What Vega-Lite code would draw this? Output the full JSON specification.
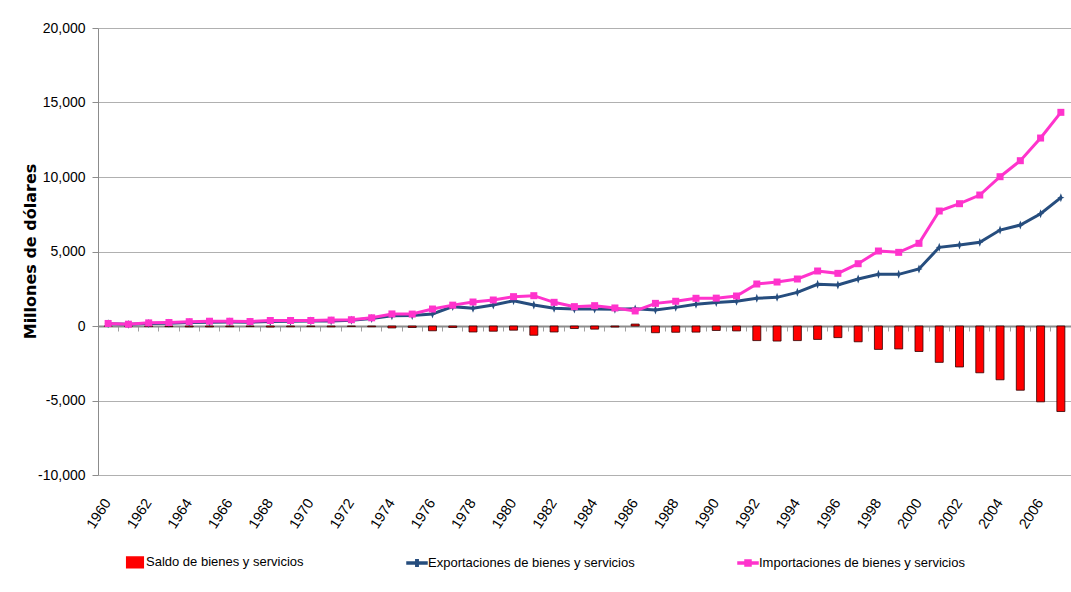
{
  "$schema": "https://vega.github.io/schema/vega-lite/v6.json",
  "autosize": {"type": "none"},
  "padding": {"left": 98, "top": 28, "right": 0, "bottom": 117},
  "width": 973,
  "height": 447,
  "background": "white",
  "config": {"view": {"stroke": null}},
  "data": {"values": [
    {"anio": 1960, "saldo": -20, "exportaciones": 150, "importaciones": 170},
    {"anio": 1961, "saldo": -10, "exportaciones": 110, "importaciones": 120},
    {"anio": 1962, "saldo": -40, "exportaciones": 170, "importaciones": 210},
    {"anio": 1963, "saldo": -45, "exportaciones": 190, "importaciones": 235},
    {"anio": 1964, "saldo": -60, "exportaciones": 230, "importaciones": 290},
    {"anio": 1965, "saldo": -60, "exportaciones": 260, "importaciones": 320},
    {"anio": 1966, "saldo": -50, "exportaciones": 270, "importaciones": 320},
    {"anio": 1967, "saldo": -40, "exportaciones": 260, "importaciones": 300},
    {"anio": 1968, "saldo": -70, "exportaciones": 300, "importaciones": 370},
    {"anio": 1969, "saldo": -50, "exportaciones": 320, "importaciones": 370},
    {"anio": 1970, "saldo": -40, "exportaciones": 330, "importaciones": 370},
    {"anio": 1971, "saldo": -55, "exportaciones": 340, "importaciones": 395},
    {"anio": 1972, "saldo": -30, "exportaciones": 390, "importaciones": 420},
    {"anio": 1973, "saldo": -50, "exportaciones": 500, "importaciones": 550},
    {"anio": 1974, "saldo": -130, "exportaciones": 680, "importaciones": 810},
    {"anio": 1975, "saldo": -100, "exportaciones": 700, "importaciones": 800},
    {"anio": 1976, "saldo": -320, "exportaciones": 810, "importaciones": 1140},
    {"anio": 1977, "saldo": -100, "exportaciones": 1300, "importaciones": 1400},
    {"anio": 1978, "saldo": -400, "exportaciones": 1190, "importaciones": 1610},
    {"anio": 1979, "saldo": -350, "exportaciones": 1410, "importaciones": 1745},
    {"anio": 1980, "saldo": -280, "exportaciones": 1700, "importaciones": 1970},
    {"anio": 1981, "saldo": -620, "exportaciones": 1410, "importaciones": 2035},
    {"anio": 1982, "saldo": -400, "exportaciones": 1190, "importaciones": 1590},
    {"anio": 1983, "saldo": -170, "exportaciones": 1140, "importaciones": 1300},
    {"anio": 1984, "saldo": -210, "exportaciones": 1140, "importaciones": 1365},
    {"anio": 1985, "saldo": -70, "exportaciones": 1130, "importaciones": 1210},
    {"anio": 1986, "saldo": 130, "exportaciones": 1150, "importaciones": 1010},
    {"anio": 1987, "saldo": -450, "exportaciones": 1080, "importaciones": 1520},
    {"anio": 1988, "saldo": -420, "exportaciones": 1250, "importaciones": 1660},
    {"anio": 1989, "saldo": -410, "exportaciones": 1460, "importaciones": 1860},
    {"anio": 1990, "saldo": -300, "exportaciones": 1580, "importaciones": 1870},
    {"anio": 1991, "saldo": -330, "exportaciones": 1655, "importaciones": 2013},
    {"anio": 1992, "saldo": -980, "exportaciones": 1857, "importaciones": 2818},
    {"anio": 1993, "saldo": -1010, "exportaciones": 1924, "importaciones": 2952},
    {"anio": 1994, "saldo": -980, "exportaciones": 2259, "importaciones": 3154},
    {"anio": 1995, "saldo": -900, "exportaciones": 2796, "importaciones": 3691},
    {"anio": 1996, "saldo": -780, "exportaciones": 2751, "importaciones": 3534},
    {"anio": 1997, "saldo": -1060, "exportaciones": 3154, "importaciones": 4181},
    {"anio": 1998, "saldo": -1570, "exportaciones": 3467, "importaciones": 5033},
    {"anio": 1999, "saldo": -1540, "exportaciones": 3467, "importaciones": 4943},
    {"anio": 2000, "saldo": -1710, "exportaciones": 3825, "importaciones": 5547},
    {"anio": 2001, "saldo": -2440, "exportaciones": 5280, "importaciones": 7717},
    {"anio": 2002, "saldo": -2750, "exportaciones": 5435, "importaciones": 8208},
    {"anio": 2003, "saldo": -3140, "exportaciones": 5614, "importaciones": 8790},
    {"anio": 2004, "saldo": -3610, "exportaciones": 6440, "importaciones": 10020},
    {"anio": 2005, "saldo": -4310, "exportaciones": 6776, "importaciones": 11094},
    {"anio": 2006, "saldo": -5090, "exportaciones": 7537, "importaciones": 12615},
    {"anio": 2007, "saldo": -5740, "exportaciones": 8612, "importaciones": 14340}
  ]},
  "transform": [
    {"fold": ["saldo", "exportaciones", "importaciones"], "as": ["serie", "valor"]}
  ],
  "layer": [
    {
      "transform": [{"filter": "datum.serie === 'saldo'"}],
      "mark": {"type": "bar", "size": 8, "stroke": "#300000", "strokeWidth": 0.8},
      "encoding": {
        "x": {
          "field": "anio", "type": "ordinal",
          "scale": {"paddingInner": 0, "paddingOuter": 0},
          "axis": {
            "orient": "bottom", "title": null,
            "values": [1960,1962,1964,1966,1968,1970,1972,1974,1976,1978,1980,1982,1984,1986,1988,1990,1992,1994,1996,1998,2000,2002,2004,2006],
            "labelAngle": -57, "labelAlign": "right", "labelBaseline": "middle",
            "labelPadding": 25, "ticks": false, "domain": false, "grid": false,
            "labelFont": "Liberation Sans", "labelFontSize": 14.5, "labelColor": "#000"
          }
        },
        "y": {
          "field": "valor", "type": "quantitative",
          "scale": {"domain": [-10000, 20000], "nice": false},
          "axis": {
            "values": [-10000, -5000, 0, 5000, 10000, 15000, 20000],
            "labelExpr": "replace(format(datum.value, ','), '\u2212', '-')",
            "grid": true, "gridColor": "#b0b0b0", "gridWidth": 1,
            "domainColor": "#8c8c8c", "tickColor": "#8c8c8c", "tickSize": 6,
            "labelPadding": 7, "labelFont": "Liberation Sans", "labelFontSize": 14, "labelColor": "#000",
            "title": "Millones de dólares",
            "titleFont": "DejaVu Sans", "titleFontSize": 16, "titleFontWeight": "bold", "titleColor": "#000",
            "titleX": -68, "titleY": 223, "titleAngle": -90, "titleAlign": "center", "titleBaseline": "middle"
          }
        },
        "color": {
          "field": "serie", "type": "nominal",
          "scale": {"domain": ["saldo", "exportaciones", "importaciones"], "range": ["#ff0000", "#264d7e", "#ff33cc"]},
          "legend": {
            "orient": "none", "legendX": 26, "legendY": 523, "direction": "horizontal",
            "title": null, "padding": 0, "columnPadding": 100, "labelOffset": 0,
            "symbolSize": 400, "labelLimit": 400,
            "symbolType": {"expr": "datum.value === 'saldo' ? 'M-0.83,-0.53H0.83V0.53H-0.83Z' : (datum.value === 'exportaciones' ? 'M-1,-0.09H-0.12V-0.32H0.12V-0.09H1V0.09H0.12V0.32H-0.12V0.09H-1Z' : 'M-1,-0.1H-0.3V-0.3H0.3V-0.1H1V0.1H0.3V0.3H-0.3V0.1H-1Z')"},
            "labelFont": "Liberation Sans", "labelFontSize": 13, "labelColor": "#000",
            "labelExpr": "datum.label === 'saldo' ? 'Saldo de bienes y servicios' : (datum.label === 'exportaciones' ? 'Exportaciones de bienes y servicios' : 'Importaciones de bienes y servicios')",
            "encode": {
              "symbols": {
                "update": {
                  "fill": {"scale": "color", "field": "value"},
                  "fillOpacity": {"value": 1},
                  "opacity": {"value": 1},
                  "stroke": {"signal": "datum.value === 'saldo' ? '#222' : 'transparent'"},
                  "strokeWidth": {"value": 1}
                }
              }
            }
          }
        }
      }
    },
    {
      "transform": [{"filter": "datum.serie !== 'saldo'"}],
      "mark": {"type": "line", "strokeWidth": 3},
      "encoding": {
        "x": {
          "field": "anio", "type": "ordinal",
          "axis": {
            "orient": "bottom", "offset": -149, "title": null, "labels": false,
            "ticks": true, "tickSize": 5, "tickColor": "#a0a0a0", "tickWidth": 1,
            "domain": true, "domainColor": "#8c8c8c", "domainWidth": 2,
            "bandPosition": 0, "grid": false
          }
        },
        "y": {"field": "valor", "type": "quantitative"},
        "color": {"field": "serie", "type": "nominal"}
      }
    },
    {
      "transform": [{"filter": "datum.serie === 'exportaciones'"}],
      "mark": {"type": "point", "filled": true, "opacity": 1, "size": 80, "shape": "M0,-1L0.3,-0.2L0.8,0L0.3,0.2L0,1L-0.3,0.2L-0.8,0L-0.3,-0.2Z"},
      "encoding": {
        "x": {"field": "anio", "type": "ordinal", "axis": null},
        "y": {"field": "valor", "type": "quantitative"},
        "color": {"field": "serie", "type": "nominal"}
      }
    },
    {
      "transform": [{"filter": "datum.serie === 'importaciones'"}],
      "mark": {"type": "point", "filled": true, "opacity": 1, "size": 49, "shape": "square"},
      "encoding": {
        "x": {"field": "anio", "type": "ordinal", "axis": null},
        "y": {"field": "valor", "type": "quantitative"},
        "color": {"field": "serie", "type": "nominal"}
      }
    }
  ],
  "resolve": {"axis": {"x": "independent"}}
}
